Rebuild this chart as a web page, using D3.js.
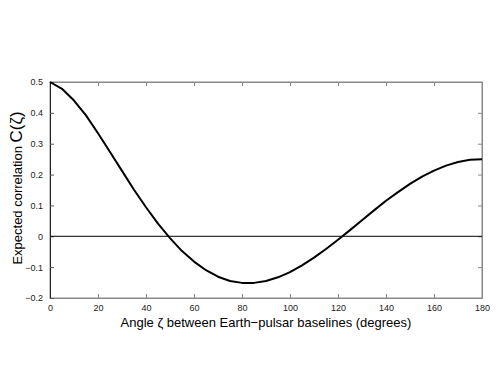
<!DOCTYPE html>
<html>
<head>
<meta charset="utf-8">
<script src="https://cdn.jsdelivr.net/npm/d3@7"></script>
<style>
  body { margin: 0; background: #fff; }
  text { font-family: "Liberation Sans", Arial, sans-serif; }
</style>
</head>
<body>
<svg id="chart"></svg>
<script>
// angle in degrees
const angles = [0, 5, 10, 15, 20, 25, 30, 35, 40, 45, 50, 55, 60, 65, 70, 75, 80, 85, 90,
    95, 100, 105, 110, 115, 120, 125, 130, 135, 140, 145, 150, 155, 160, 165, 170, 175, 180];
// expected correlation
const correlation = [0.500, 0.478, 0.440, 0.392, 0.334, 0.273, 0.212, 0.151, 0.094, 0.041,
    -0.006, -0.048, -0.082, -0.110, -0.131, -0.145, -0.151, -0.151, -0.145,
    -0.133, -0.116, -0.094, -0.069, -0.041, -0.011, 0.020, 0.052, 0.084, 0.115,
    0.143, 0.170, 0.193, 0.213, 0.229, 0.241, 0.248, 0.250];
const xTicks = [0, 20, 40, 60, 80, 100, 120, 140, 160, 180];
const yTicks = [-0.2, -0.1, 0, 0.1, 0.2, 0.3, 0.4, 0.5];

const canvWidth = 498, canvHeight = 374;
const margin = { top: 82, right: 16, bottom: 76, left: 50 };
const width = canvWidth - margin.left - margin.right;
const height = canvHeight - margin.top - margin.bottom;

const svg = d3.select("#chart")
    .attr("width", canvWidth)
    .attr("height", canvHeight);
const g = svg.append("g")
    .attr("transform", "translate(" + margin.left + "," + margin.top + ")");

const x = d3.scaleLinear().domain([0, 180]).range([0, width]);
const y = d3.scaleLinear().domain([-0.2, 0.5]).range([height, 0]);

const tickLen = 4;
const boxColor = "#888";

// box (top and right)
g.append("rect")
    .attr("x", 0).attr("y", 0)
    .attr("width", width).attr("height", height)
    .attr("fill", "none").attr("stroke", boxColor).attr("stroke-width", 1);

// bottom axis, ticks pointing inward
const xAxis = g.append("g")
    .attr("transform", "translate(0," + height + ")")
    .call(d3.axisBottom(x).tickValues(xTicks).tickSizeInner(-tickLen).tickSizeOuter(0)
        .tickPadding(7).tickFormat(d3.format("d")));
xAxis.select(".domain").attr("stroke", boxColor);
xAxis.selectAll(".tick line").attr("stroke", boxColor);
xAxis.selectAll("text").attr("font-size", 9).attr("fill", "#222");

// top ticks
g.append("g")
    .call(d3.axisTop(x).tickValues(xTicks).tickSizeInner(-tickLen).tickSizeOuter(0).tickFormat(""))
    .call(a => a.select(".domain").attr("stroke", boxColor))
    .selectAll(".tick line").attr("stroke", boxColor);

// left axis
const yAxis = g.append("g")
    .call(d3.axisLeft(y).tickValues(yTicks).tickSizeInner(-tickLen).tickSizeOuter(0)
        .tickPadding(7).tickFormat(d => d === 0 ? "0" : d3.format(".1f")(d).replace("-", "\u2212")));
yAxis.select(".domain").attr("stroke", "#222");
yAxis.selectAll(".tick line").attr("stroke", "#555");
yAxis.selectAll("text").attr("font-size", 9).attr("fill", "#222");

// right ticks
g.append("g")
    .attr("transform", "translate(" + width + ",0)")
    .call(d3.axisRight(y).tickValues(yTicks).tickSizeInner(-tickLen).tickSizeOuter(0).tickFormat(""))
    .call(a => a.select(".domain").attr("stroke", boxColor))
    .selectAll(".tick line").attr("stroke", boxColor);

// zero line
g.append("line")
    .attr("x1", x(0)).attr("x2", x(180))
    .attr("y1", y(0)).attr("y2", y(0))
    .attr("stroke", "#000").attr("stroke-width", 1);

// curve
const line = d3.line()
    .x((d, i) => x(angles[i]))
    .y(d => y(d));
g.append("path")
    .datum(correlation)
    .attr("fill", "none")
    .attr("stroke", "#000")
    .attr("stroke-width", 2)
    .attr("stroke-linejoin", "round")
    .attr("d", line);

// x label
svg.append("text")
    .attr("x", margin.left + width / 2)
    .attr("y", 327)
    .attr("text-anchor", "middle")
    .attr("font-size", 13)
    .text("Angle \u03b6 between Earth\u2212pulsar baselines (degrees)");

// y label
const yl = svg.append("text")
    .attr("transform", "translate(22," + (margin.top + height / 2 - 2) + ") rotate(-90)")
    .attr("text-anchor", "middle");
yl.append("tspan").attr("font-size", 13).text("Expected correlation  ");
yl.append("tspan").attr("font-size", 17).text("C(\u03b6)");
</script>
</body>
</html>
